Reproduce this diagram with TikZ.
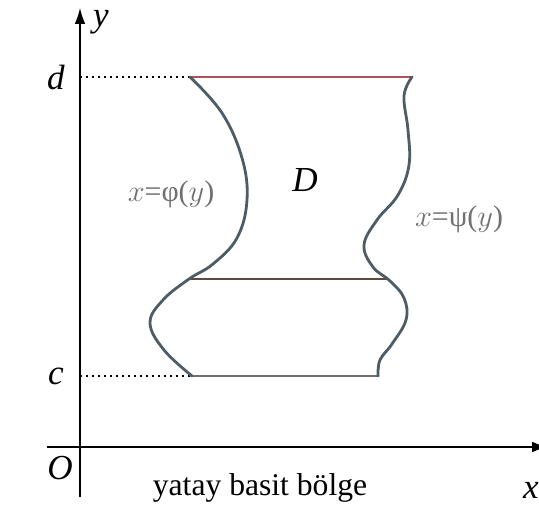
\documentclass[tikz,border=0pt]{standalone}
\usepackage{fontspec}
\setmainfont{Liberation Serif}
\usetikzlibrary{arrows.meta,positioning}

\definecolor{curvecol}{HTML}{4E5C66}
\definecolor{topcol}{HTML}{B0505E}
\definecolor{midcol}{HTML}{5A4A40}
\definecolor{botcol}{HTML}{6E6E6E}
\definecolor{labcol}{HTML}{707070}

\begin{document}
\begin{tikzpicture}[x=0.02cm, y=-0.02cm,
    bound/.style={line width=1.6pt, line cap=round},
    guide/.style={dotted, line width=1.4pt},
    axislab/.style={font=\fontsize{20}{24}\selectfont\itshape},
    funclab/.style={font=\fontsize{17}{20}\selectfont, text=labcol}]
  \useasboundingbox (0,0) rectangle (539,530);
  % axes
  \coordinate (O) at (80,447);
  \coordinate (ytop) at (80,8);
  \coordinate (ybot) at (80,497);
  \coordinate (xleft) at (47,447);
  \coordinate (xright) at (548,447);
  \draw[thick, -{Latex[length=9pt,width=6pt]}] (ybot) -- (ytop);
  \draw[thick, -{Latex[length=9pt,width=6pt]}] (xleft) -- (xright);
  \node[axislab] (ylab) at (101,22) {y};
  \node[axislab] (xlab) at (531,490) {x};
  \node[axislab] (olab) at (60,468) {O};
  % corners of the region
  \coordinate (dL) at (190,77);
  \coordinate (dR) at (412,77);
  \coordinate (mL) at (189,279);
  \coordinate (mR) at (388,279);
  \coordinate (cL) at (192,376);
  \coordinate (cR) at (378,376);
  \coordinate (dA) at (80,77);
  \coordinate (cA) at (80,376);
  \node[axislab] (dlab) at (56,77) {d};
  \node[axislab] (clab) at (56,376) {c};
  \draw[guide] (dA) -- (dL);
  \draw[guide] (cA) -- (cL);
  % horizontal cuts
  \draw[bound, topcol] (dL) -- (dR);
  \draw[bound, midcol] (mL) -- (mR);
  \draw[bound, botcol] (cL) -- (cR);
  % boundary curves
  \draw[bound, curvecol] plot[smooth, tension=0.65] coordinates {
    (190,77) (222,113) (242,158) (247,200) (237,238) (213,264) (189,279)
    (163,300) (150,323) (164,350) (192,376)};
  \draw[bound, curvecol] plot[smooth, tension=0.65] coordinates {
    (412,77) (404,96) (408,130) (409,165) (398,195) (377,220) (364,245)
    (373,267) (390,281) (404,298) (406,320) (392,344) (380,360) (378,376)};
  % labels
  \node[funclab] (phi) at (171,194) {$x$=φ($y$)};
  \node[funclab] (psi) at (459,219) {$x$=ψ($y$)};
  \node[axislab] (Dlab) at (305,180) {D};
  \node[font=\fontsize{18}{22}\selectfont] (title) at (260,488) {yatay basit bölge};
\end{tikzpicture}
\end{document}
